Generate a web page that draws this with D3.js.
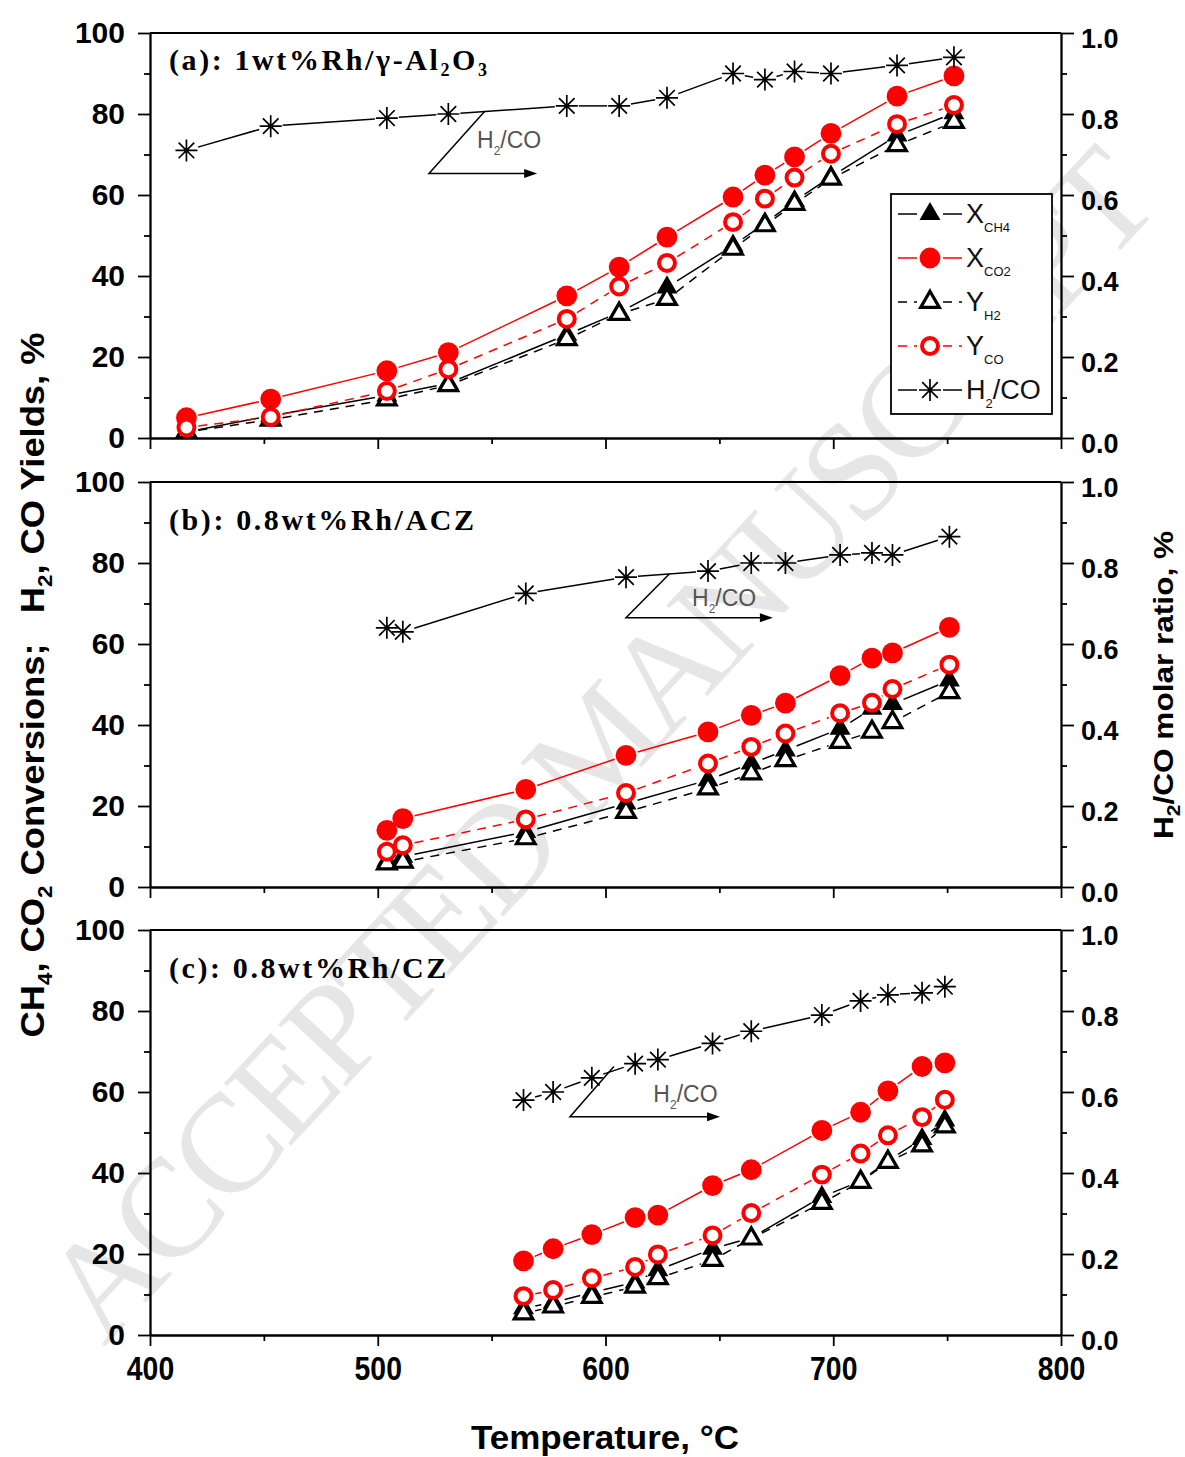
<!DOCTYPE html>
<html>
<head>
<meta charset="utf-8">
<script src="https://cdn.jsdelivr.net/npm/d3@7"></script>
<style>
  body { margin: 0; background: #fff; }
  svg text { font-family: Arial, "Liberation Sans", sans-serif; }
</style>
</head>
<body>
<div id="chart"></div>
<script>
// panel (a): 1wt%Rh/γ-Al2O3
var tempA = [416, 453, 504, 531, 583, 606, 627, 656, 670, 683, 699, 728, 753];
var xch4A = [1.5, 5.5, 10.5, 13.5, 25.5, 31.0, 37.2, 47.5, 53.0, 58.5, 64.5, 74.7, 80.2];
var xco2A = [5.0, 9.6, 16.6, 21.1, 35.1, 42.2, 49.6, 59.5, 64.9, 69.4, 75.2, 84.4, 89.4];
var yh2A = [1.5, 4.5, 9.5, 13.0, 24.4, 30.6, 34.3, 46.7, 52.5, 57.8, 64.0, 72.3, 78.0];
var ycoA = [2.6, 5.2, 11.6, 17.0, 29.4, 37.4, 43.2, 53.3, 59.1, 64.3, 70.2, 77.5, 82.2];
var ratioA = [0.71, 0.77, 0.79, 0.80, 0.82, 0.82, 0.84, 0.90, 0.885, 0.905, 0.90, 0.92, 0.94];

// panel (b): 0.8wt%Rh/ACZ
var tempB = [504, 511, 565, 609, 645, 664, 679, 703, 717, 726, 751];
var xch4B = [6.5, 7.5, 13.6, 20.6, 26.4, 30.5, 33.7, 39.1, 44.0, 45.2, 51.0];
var xco2B = [14.0, 16.9, 24.1, 32.5, 38.3, 42.4, 45.4, 52.2, 56.5, 57.8, 64.1];
var yh2B = [5.8, 6.2, 12.0, 18.5, 24.3, 28.0, 31.3, 35.8, 38.3, 40.7, 48.1];
var ycoB = [8.7, 10.3, 16.7, 23.2, 30.5, 34.6, 37.9, 42.9, 45.5, 48.9, 54.9];
var ratioB = [0.64, 0.63, 0.725, 0.765, 0.78, 0.80, 0.80, 0.82, 0.825, 0.82, 0.865];

// panel (c): 0.8wt%Rh/CZ
var tempC = [564, 577, 594, 613, 623, 647, 664, 695, 712, 724, 739, 749];
var xch4C = [6.6, 8.0, 10.5, 13.0, 16.0, 21.3, 24.0, 34.1, 38.0, 43.0, 48.4, 53.0];
var xco2C = [18.3, 21.3, 24.8, 29.0, 29.6, 36.9, 40.8, 50.5, 55.0, 60.3, 66.3, 67.2];
var yh2C = [5.3, 7.0, 9.4, 11.9, 14.0, 18.5, 23.8, 32.6, 37.8, 42.7, 46.8, 51.5];
var ycoC = [9.6, 11.1, 14.0, 16.8, 19.9, 24.6, 30.1, 39.6, 44.8, 49.3, 53.8, 58.1];
var ratioC = [0.58, 0.60, 0.635, 0.67, 0.68, 0.72, 0.75, 0.79, 0.825, 0.84, 0.845, 0.86];

var xTicks = [400, 500, 600, 700, 800];
var xMinor = [450, 550, 650, 750];
var yTicks = [0, 20, 40, 60, 80, 100];
var yMinor = [10, 30, 50, 70, 90];
var rTicks = [0, 0.2, 0.4, 0.6, 0.8, 1.0];
var rMinor = [0.1, 0.3, 0.5, 0.7, 0.9];

var panels = [
    { title: [["(a): 1wt%Rh/γ-Al"], ["2", 1], ["O"], ["3", 1]], titleY: 37,
      temp: tempA, xch4: xch4A, xco2: xco2A, yh2: yh2A, yco: ycoA, ratio: ratioA,
      note: { top: [547, 80.7], corner: [522.5, 65.3], end: 570, text: [543.6, 71.5] } },
    { title: [["(b): 0.8wt%Rh/ACZ"]], titleY: 48,
      temp: tempB, xch4: xch4B, xco2: xco2B, yh2: yh2B, yco: ycoB, ratio: ratioB,
      note: { top: [628, 77.3], corner: [609, 66.5], end: 673.5, text: [638, 69.5] } },
    { title: [["(c): 0.8wt%Rh/CZ"]], titleY: 48,
      temp: tempC, xch4: xch4C, xco2: xco2C, yh2: yh2C, yco: ycoC, ratio: ratioC,
      note: { top: [603.7, 66.3], corner: [584.4, 53.9], end: 650.3, text: [621, 57.6] } }
];

var series = [
    { key: "xch4", color: "#000", dash: null, marker: "triFill", label: [["X"], ["CH4", 1]] },
    { key: "xco2", color: "#ff0000", dash: null, marker: "cirFill", label: [["X"], ["CO2", 1]] },
    { key: "yh2", color: "#000", dash: "9,7", marker: "triOpen", label: [["Y"], ["H2", 1]] },
    { key: "yco", color: "#ff0000", dash: "9,7", marker: "cirOpen", label: [["Y"], ["CO", 1]] },
    { key: "ratio", color: "#000", dash: null, marker: "star", label: [["H"], ["2", 1], ["/CO"]] }
];

var width = 1185,
    height = 1457,
    panelTops = [33, 482, 930],
    panelH = 405;

var x = d3.scaleLinear().domain([400, 800]).range([150, 1061]);

var svg = d3
    .select("#chart")
    .append("svg")
    .attr("width", width)
    .attr("height", height);

// watermark, behind everything
svg.append("text")
    .attr("transform", "translate(598,742) rotate(-47.2)")
    .attr("text-anchor", "middle")
    .attr("dy", "0.35em")
    .attr("textLength", 1560)
    .style("font-family", "'Liberation Serif', 'Times New Roman', serif")
    .style("font-size", "140px")
    .style("fill", "#e6e6e6")
    .text("ACCEPTED MANUSCRIPT");

// writes text parts, a part flagged 1 is a subscript
function rich(sel, parts, subSize, shift) {
    var inSub = false;
    parts.forEach(function (p) {
        var t = sel.append("tspan").text(p[0]);
        if (p[1]) {
            t.style("font-size", subSize + "px").attr("dy", shift);
            inSub = true;
        } else if (inSub) {
            t.attr("dy", -shift);
            inSub = false;
        }
    });
    return sel;
}

function markerPath(type) {
    if (type == "triFill") return d3.symbol(d3.symbolTriangle, 190)();
    if (type == "triOpen") return d3.symbol(d3.symbolTriangle, 150)();
    if (type == "cirFill") return d3.symbol(d3.symbolCircle, 340)();
    if (type == "cirOpen") return d3.symbol(d3.symbolCircle, 200)();
    return "M-11,0H11M0,-11V11M-7.8,-7.8L7.8,7.8M-7.8,7.8L7.8,-7.8";
}

function drawMarker(g, type, color, cx, cy) {
    var m = g.append("path")
        .attr("d", markerPath(type))
        .attr("transform", "translate(" + cx + "," + cy + ")");
    if (type == "triFill" || type == "cirFill") {
        m.attr("fill", color);
    } else if (type == "triOpen") {
        m.attr("fill", "#fff").attr("stroke", color).attr("stroke-width", 3.2);
    } else if (type == "cirOpen") {
        m.attr("fill", "#fff").attr("stroke", color).attr("stroke-width", 4);
    } else {
        m.attr("fill", "none").attr("stroke", color).attr("stroke-width", 1.7);
        g.append("circle").attr("cx", cx).attr("cy", cy).attr("r", 2.2).attr("fill", color);
    }
}

// line pieces between points, cut back so they stop short of the symbols
function gapSegments(pts, gap) {
    var out = [];
    for (var i = 1; i < pts.length; i++) {
        var a = pts[i - 1], b = pts[i];
        var dx = b[0] - a[0], dy = b[1] - a[1];
        var len = Math.sqrt(dx * dx + dy * dy);
        if (len <= gap * 2) continue;
        var ux = dx / len, uy = dy / len;
        out.push([a[0] + ux * gap, a[1] + uy * gap, b[0] - ux * gap, b[1] - uy * gap]);
    }
    return out;
}

function styleAxis(g, fontSize) {
    g.selectAll("path, line").attr("stroke", "#000").attr("stroke-width", 1.8);
    g.selectAll("text")
        .attr("fill", "#000")
        .style("font-size", fontSize + "px")
        .style("font-weight", "bold");
}

panels.forEach(function (p, idx) {
    var top = panelTops[idx],
        bottom = top + panelH;
    var y = d3.scaleLinear().domain([0, 100]).range([bottom, top]);
    var y2 = d3.scaleLinear().domain([0, 1]).range([bottom, top]);
    var g = svg.append("g");

    // top frame line
    g.append("line")
        .attr("x1", x(400)).attr("x2", x(800))
        .attr("y1", top).attr("y2", top)
        .attr("stroke", "#000").attr("stroke-width", 1.8);

    // left axis
    var left = g.append("g")
        .attr("transform", "translate(" + x(400) + ",0)")
        .call(d3.axisLeft(y).tickValues(yTicks).tickSize(12).tickSizeOuter(0).tickPadding(13));
    styleAxis(left, 30);
    var leftMinor = g.append("g")
        .attr("transform", "translate(" + x(400) + ",0)")
        .call(d3.axisLeft(y).tickValues(yMinor).tickSize(6).tickSizeOuter(0).tickFormat(""));
    styleAxis(leftMinor, 30);

    // right axis
    var right = g.append("g")
        .attr("transform", "translate(" + x(800) + ",0)")
        .call(d3.axisRight(y2).tickValues(rTicks).tickSize(13).tickSizeOuter(0).tickPadding(7)
            .tickFormat(d3.format(".1f")));
    styleAxis(right, 27);
    right.selectAll("text").attr("dy", "0.55em");
    var rightMinor = g.append("g")
        .attr("transform", "translate(" + x(800) + ",0)")
        .call(d3.axisRight(y2).tickValues(rMinor).tickSize(6).tickSizeOuter(0).tickFormat(""));
    styleAxis(rightMinor, 27);

    // bottom axis, labels only on the last panel
    var last = idx == panels.length - 1;
    var bottomAxis = g.append("g")
        .attr("transform", "translate(0," + bottom + ")")
        .call(d3.axisBottom(x).tickValues(xTicks).tickSize(11).tickSizeOuter(0).tickPadding(11)
            .tickFormat(last ? d3.format("d") : ""));
    styleAxis(bottomAxis, 33);
    bottomAxis.selectAll("text").attr("transform", "scale(0.86,1)");
    var bottomMinor = g.append("g")
        .attr("transform", "translate(0," + bottom + ")")
        .call(d3.axisBottom(x).tickValues(xMinor).tickSize(6).tickSizeOuter(0).tickFormat(""));
    styleAxis(bottomMinor, 33);

    // panel title
    rich(g.append("text")
        .attr("x", 169)
        .attr("y", top + p.titleY)
        .style("font-family", "'Liberation Serif', 'Times New Roman', serif")
        .style("font-weight", "bold")
        .style("font-size", "30px")
        .style("letter-spacing", "2.6px"), p.title, 18, 6);

    // H2/CO annotation arrow
    var n = p.note;
    g.append("path")
        .attr("d", "M" + x(n.top[0]) + "," + y(n.top[1]) +
            "L" + x(n.corner[0]) + "," + y(n.corner[1]) +
            "H" + (x(n.end) - 10))
        .attr("fill", "none")
        .attr("stroke", "#000")
        .attr("stroke-width", 1.5);
    g.append("path")
        .attr("d", "M" + x(n.end) + "," + y(n.corner[1]) + "l-13,-4.5v9z")
        .attr("fill", "#000");
    rich(g.append("text")
        .attr("x", x(n.text[0]))
        .attr("y", y(n.text[1]))
        .style("font-size", "23px")
        .attr("fill", "#555"), [["H"], ["2", 1], ["/CO"]], 12, 7);

    // series
    series.forEach(function (s) {
        var scale = s.key == "ratio" ? y2 : y;
        var pts = p.temp.map(function (t, i) {
            return [x(t), scale(p[s.key][i])];
        });
        var sg = g.append("g");
        sg.selectAll("line")
            .data(gapSegments(pts, 12))
            .enter()
            .append("line")
            .attr("x1", function (d) { return d[0]; })
            .attr("y1", function (d) { return d[1]; })
            .attr("x2", function (d) { return d[2]; })
            .attr("y2", function (d) { return d[3]; })
            .attr("stroke", s.color)
            .attr("stroke-width", 1.5)
            .attr("stroke-dasharray", s.dash);
        pts.forEach(function (pt) {
            drawMarker(sg, s.marker, s.color, pt[0], pt[1]);
        });
    });
});

// legend inside panel (a)
var legend = svg.append("g");
legend.append("rect")
    .attr("x", 891).attr("y", 194)
    .attr("width", 161).attr("height", 220)
    .attr("fill", "#fff")
    .attr("stroke", "#000")
    .attr("stroke-width", 1.8);
series.forEach(function (s, k) {
    var ry = 214 + k * 44;
    legend.append("line").attr("x1", 898).attr("x2", 917).attr("y1", ry).attr("y2", ry)
        .attr("stroke", s.color).attr("stroke-width", 1.5).attr("stroke-dasharray", s.dash);
    legend.append("line").attr("x1", 943).attr("x2", 962).attr("y1", ry).attr("y2", ry)
        .attr("stroke", s.color).attr("stroke-width", 1.5).attr("stroke-dasharray", s.dash);
    drawMarker(legend, s.marker, s.color, 930, ry);
    rich(legend.append("text")
        .attr("x", 966)
        .attr("y", ry + 9)
        .style("font-size", "27px")
        .attr("fill", "#111"), s.label, 13, 9);
});

// axis titles
rich(svg.append("text")
    .attr("transform", "translate(44,685) rotate(-90)")
    .attr("text-anchor", "middle")
    .attr("textLength", 705)
    .attr("lengthAdjust", "spacingAndGlyphs")
    .style("font-size", "34px")
    .style("font-weight", "bold"),
    [["CH"], ["4", 1], [", CO"], ["2", 1], [" Conversions;\u00a0\u00a0 H"], ["2", 1], [", CO Yields, %"]], 21, 8);

rich(svg.append("text")
    .attr("transform", "translate(1173,685) rotate(-90)")
    .attr("text-anchor", "middle")
    .attr("textLength", 308)
    .attr("lengthAdjust", "spacingAndGlyphs")
    .style("font-size", "27px")
    .style("font-weight", "bold"),
    [["H"], ["2", 1], ["/CO molar ratio, %"]], 18, 7);

svg.append("text")
    .attr("x", 605)
    .attr("y", 1449)
    .attr("text-anchor", "middle")
    .attr("textLength", 268)
    .attr("lengthAdjust", "spacingAndGlyphs")
    .style("font-size", "34px")
    .style("font-weight", "bold")
    .text("Temperature, \u00b0C");
</script>
</body>
</html>
